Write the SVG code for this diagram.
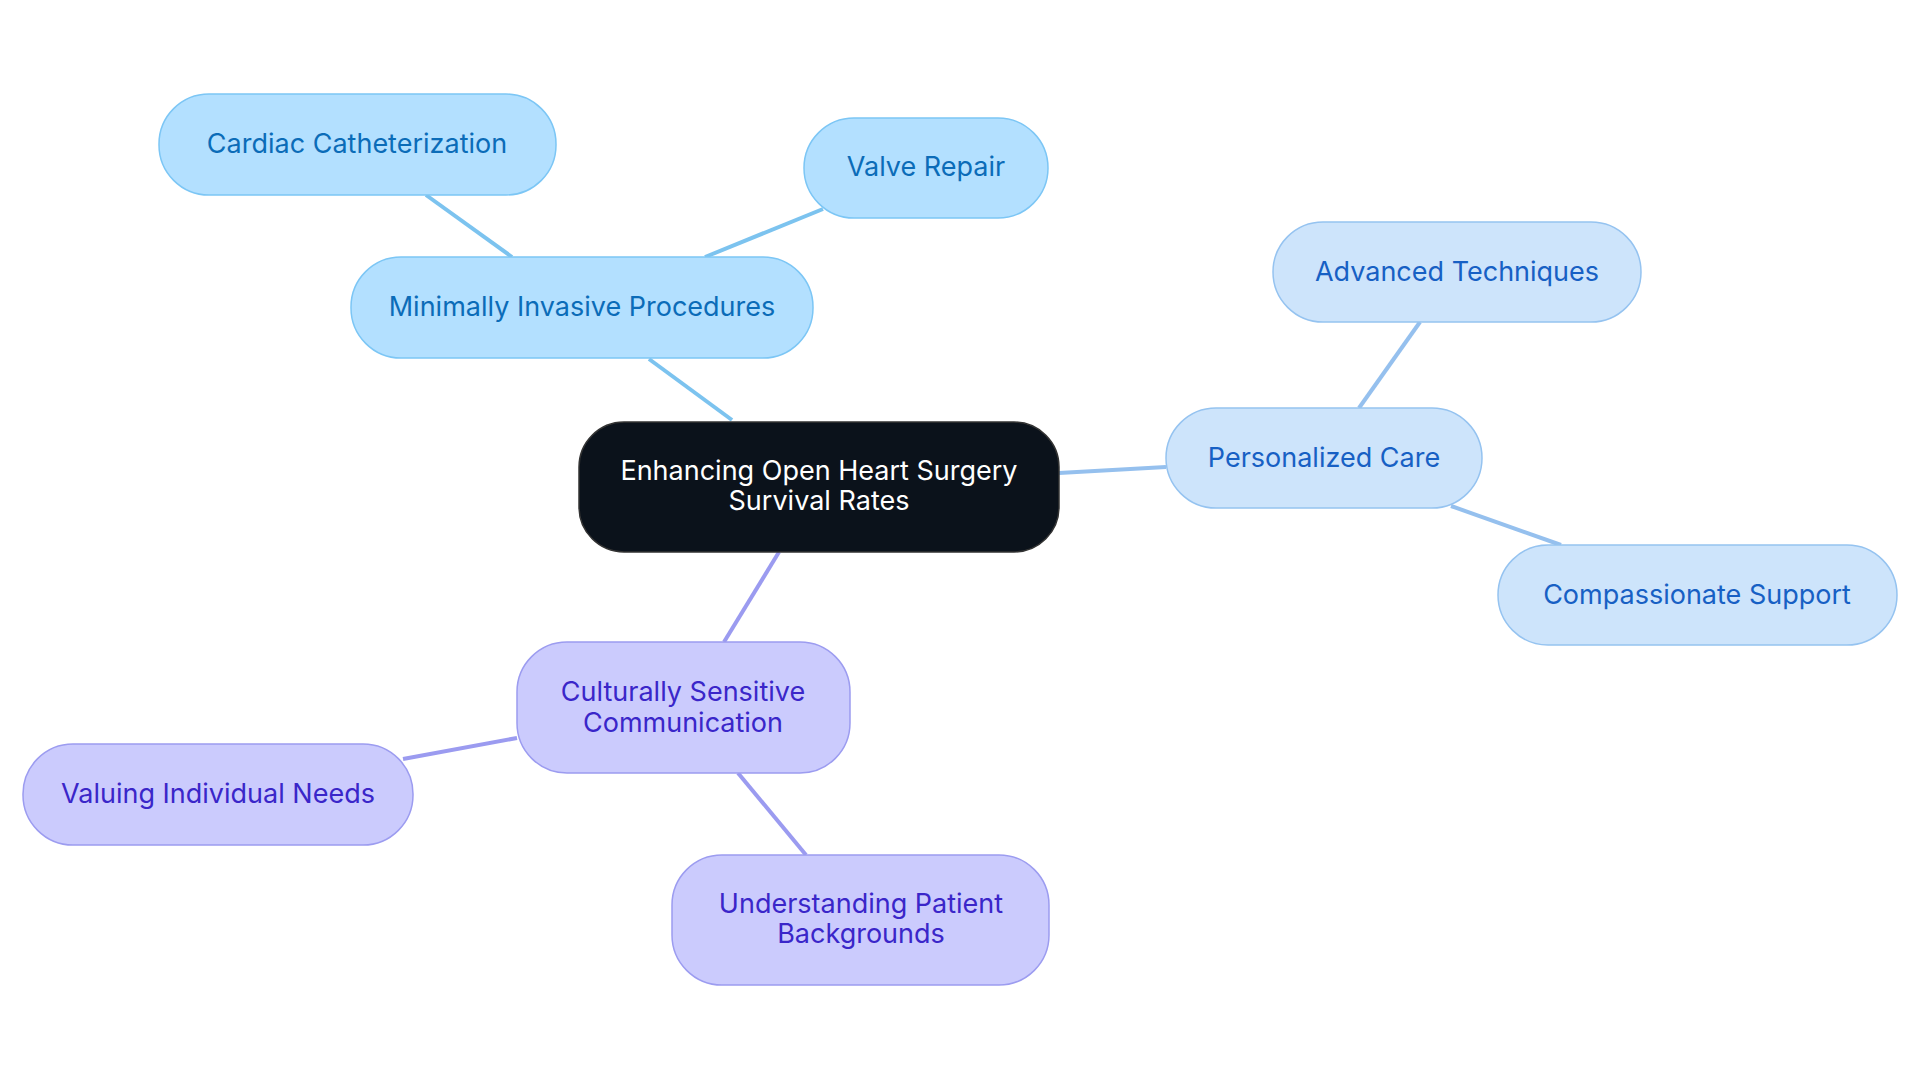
<svg xmlns="http://www.w3.org/2000/svg" width="1920" height="1083" viewBox="0 0 1920 1083">
<style>
text{font-family:Inter,"Noto Sans",sans-serif;font-size:27px;text-anchor:middle;dominant-baseline:central}
.b rect{fill:#b3e0ff;stroke:#7cc6f5;stroke-width:1.5}.b text{fill:#0b6cb8}
.p rect{fill:#cde4fb;stroke:#95c3f0;stroke-width:1.5}.p text{fill:#1760c4}
.v rect{fill:#cbcbfd;stroke:#9c9cf0;stroke-width:1.5}.v text{fill:#3a26c9}
.c rect{fill:#0b121b;stroke:#333;stroke-width:1.5}.c text{fill:#fff}
#edges line{stroke-width:4}
</style>
<g id="edges">
<line x1="732" y1="420" x2="649" y2="359" stroke="#7cc3ef"/>
<line x1="512" y1="257" x2="426" y2="195" stroke="#7cc3ef"/>
<line x1="705" y1="257" x2="823" y2="209" stroke="#7cc3ef"/>
<line x1="1059" y1="473" x2="1166" y2="467" stroke="#95c0ee"/>
<line x1="1359" y1="408" x2="1420" y2="322" stroke="#95c0ee"/>
<line x1="1451" y1="506" x2="1561" y2="545" stroke="#95c0ee"/>
<line x1="779" y1="552" x2="724" y2="642" stroke="#9b9bf0"/>
<line x1="517" y1="738" x2="403" y2="759" stroke="#9b9bf0"/>
<line x1="738" y1="773" x2="806" y2="855" stroke="#9b9bf0"/>
</g>
<g id="center" class="c"><rect x="579" y="422" width="480" height="130" rx="45"/><text x="819" y="470">Enhancing Open Heart Surgery</text><text x="819" y="500">Survival Rates</text></g>
<g id="mip" class="b"><rect x="351" y="257" width="462" height="101" rx="50"/><text x="582" y="306">Minimally Invasive Procedures</text></g>
<g id="cardiac" class="b"><rect x="159" y="94" width="397" height="101" rx="50"/><text x="357" y="143">Cardiac Catheterization</text></g>
<g id="valve" class="b"><rect x="804" y="118" width="244" height="100" rx="50"/><text x="926" y="166">Valve Repair</text></g>
<g id="pc" class="p"><rect x="1166" y="408" width="316" height="100" rx="50"/><text x="1324" y="457">Personalized Care</text></g>
<g id="adv" class="p"><rect x="1273" y="222" width="368" height="100" rx="50"/><text x="1457" y="271">Advanced Techniques</text></g>
<g id="comp" class="p"><rect x="1498" y="545" width="399" height="100" rx="50"/><text x="1697" y="594">Compassionate Support</text></g>
<g id="csc" class="v"><rect x="517" y="642" width="333" height="131" rx="50"/><text x="683" y="691">Culturally Sensitive</text><text x="683" y="722">Communication</text></g>
<g id="valuing" class="v"><rect x="23" y="744" width="390" height="101" rx="50"/><text x="218" y="793">Valuing Individual Needs</text></g>
<g id="under" class="v"><rect x="672" y="855" width="377" height="130" rx="50"/><text x="861" y="903">Understanding Patient</text><text x="861" y="933">Backgrounds</text></g>
</svg>
